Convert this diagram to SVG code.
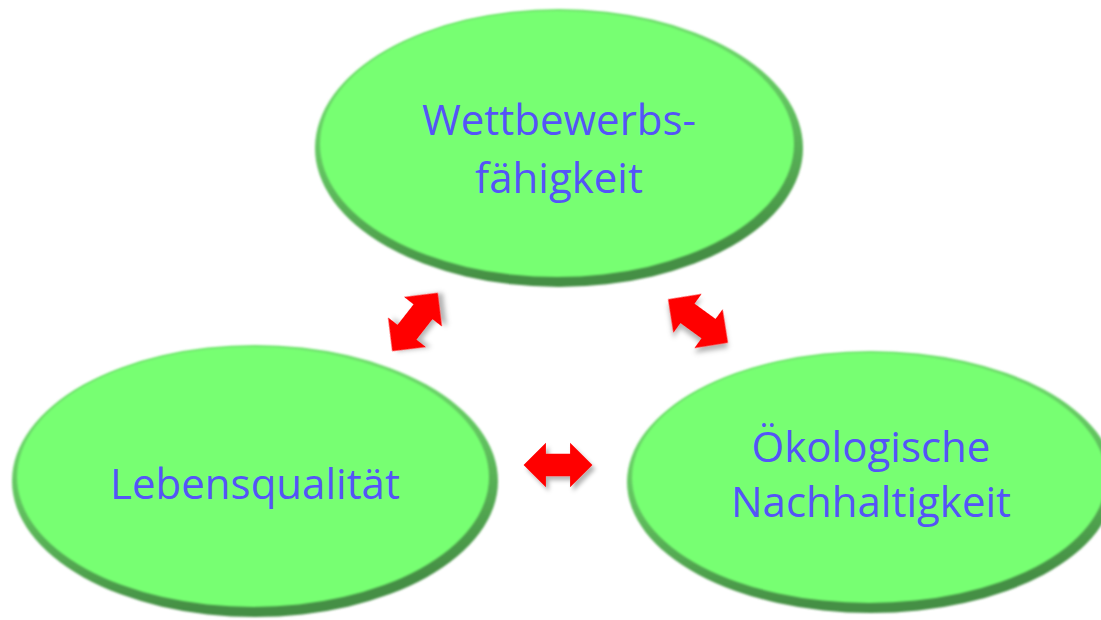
<svg xmlns="http://www.w3.org/2000/svg" xmlns:xlink="http://www.w3.org/1999/xlink" width="1101" height="620" viewBox="0 0 1101 620">
  <style>
    .label { font-family: "Open Sans", "Liberation Sans", sans-serif; font-size: 42px; fill: #5454f8; text-anchor: middle; }
    .rim { fill: url(#rimGrad); filter: url(#soft); }
    .face { fill: #77ff72; filter: url(#soft); }
    .arrow { fill: #ff0000; filter: url(#shadow); }
  </style>
  <defs>
    <linearGradient id="rimGrad" x1="0" y1="0" x2="0.25" y2="1">
      <stop offset="0" stop-color="#78f075"/>
      <stop offset="0.55" stop-color="#62c260"/>
      <stop offset="1" stop-color="#458f44"/>
    </linearGradient>
    <filter id="soft" x="-5%" y="-5%" width="110%" height="110%">
      <feGaussianBlur stdDeviation="1.3"/>
    </filter>
    <filter id="shadow" x="-40%" y="-40%" width="180%" height="180%">
      <feGaussianBlur in="SourceAlpha" stdDeviation="2.5"/>
      <feOffset dx="3" dy="4" result="b"/>
      <feFlood flood-color="#000" flood-opacity="0.3"/>
      <feComposite in2="b" operator="in"/>
      <feMerge><feMergeNode/><feMergeNode in="SourceGraphic"/></feMerge>
    </filter>
    <path id="dblArrow" d="M -37,0 L -13,-24 L -13,-12 L 13,-12 L 13,-24 L 37,0 L 13,24 L 13,12 L -13,12 L -13,24 Z"/>
  </defs>

  <rect width="1101" height="620" fill="#ffffff"/>

  <g id="connectors">
    <use xlink:href="#dblArrow" class="arrow" transform="translate(415,322) rotate(-52)"/>
    <use xlink:href="#dblArrow" class="arrow" transform="translate(698,321) rotate(36)"/>
    <use xlink:href="#dblArrow" class="arrow" transform="translate(558,465) scale(0.93)"/>
  </g>

  <g id="node-wettbewerb">
    <ellipse class="rim" cx="559" cy="148" rx="244" ry="139"/>
    <ellipse class="face" cx="557" cy="144" rx="237" ry="133"/>
    <text class="label" x="559" y="135">Wettbewerbs-</text>
    <text class="label" x="559" y="193">fähigkeit</text>
  </g>

  <g id="node-lebensqualitaet">
    <ellipse class="rim" cx="255" cy="481" rx="243" ry="136"/>
    <ellipse class="face" cx="253" cy="477" rx="236" ry="130"/>
    <text class="label" x="255" y="499">Lebensqualität</text>
  </g>

  <g id="node-oekologie">
    <ellipse class="rim" cx="871" cy="482" rx="244" ry="131"/>
    <ellipse class="face" cx="869" cy="478" rx="237" ry="125"/>
    <text class="label" x="871" y="462">Ökologische</text>
    <text class="label" x="871" y="517">Nachhaltigkeit</text>
  </g>
</svg>
